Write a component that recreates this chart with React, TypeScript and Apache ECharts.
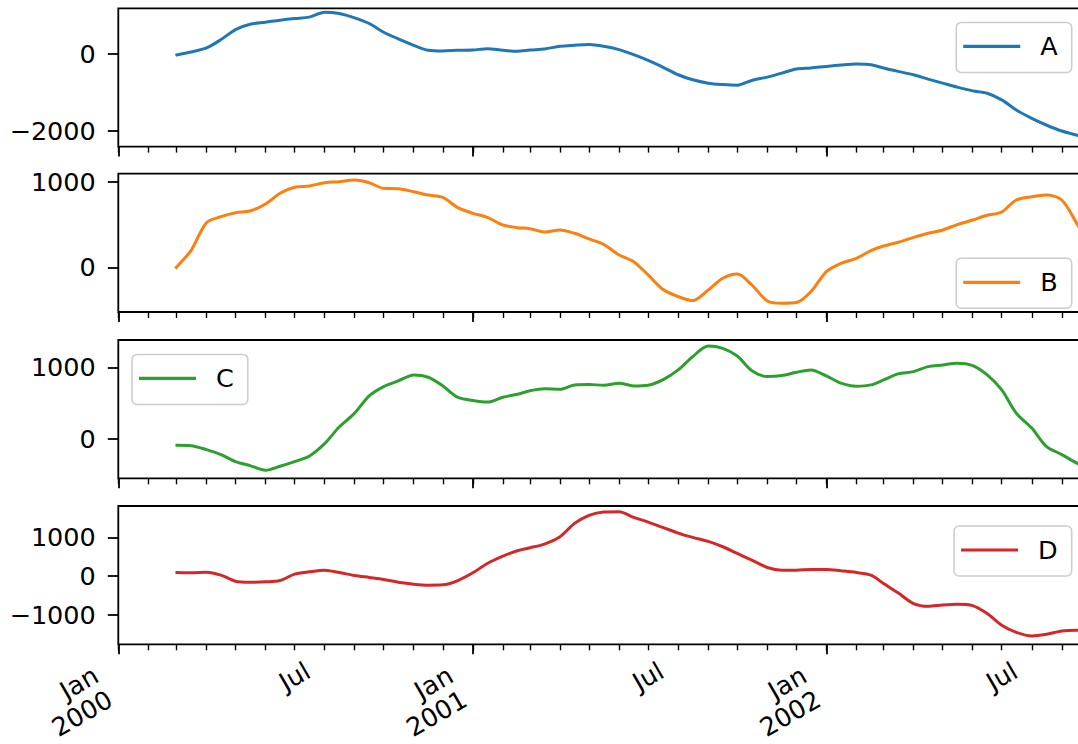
import React, { useEffect, useRef } from 'react';
import * as echarts from 'echarts';

// ---- data ----
const dates = [
  '2000-02-29', '2000-03-01', '2000-03-16', '2000-04-01', '2000-04-16', '2000-05-01', '2000-05-16',
  '2000-06-01', '2000-06-16', '2000-07-01', '2000-07-16', '2000-08-01', '2000-08-16', '2000-09-01',
  '2000-09-16', '2000-10-01', '2000-10-16', '2000-11-01', '2000-11-16', '2000-12-01', '2000-12-16',
  '2001-01-01', '2001-01-16', '2001-02-01', '2001-02-16', '2001-03-01', '2001-03-16', '2001-04-01',
  '2001-04-16', '2001-05-01', '2001-05-16', '2001-06-01', '2001-06-16', '2001-07-01', '2001-07-16',
  '2001-08-01', '2001-08-16', '2001-09-01', '2001-09-16', '2001-10-01', '2001-10-16', '2001-11-01',
  '2001-11-16', '2001-12-01', '2001-12-16', '2002-01-01', '2002-01-16', '2002-02-01', '2002-02-16',
  '2002-03-01', '2002-03-16', '2002-04-01', '2002-04-16', '2002-05-01', '2002-05-16', '2002-06-01',
  '2002-06-16', '2002-07-01', '2002-07-16', '2002-08-01', '2002-08-16', '2002-09-01', '2002-09-16',
  '2002-09-26',
];

const seriesA = [
  -35, -26, 52, 157, 374, 635, 774, 826, 879, 922, 957, 1087, 1053, 940, 792, 566, 392, 226, 96, 78,
  96, 104, 139, 96, 70, 104, 130, 200, 226, 244, 200, 113, -17, -165, -339, -539, -670, -757, -792,
  -809, -687, -600, -496, -392, -365, -322, -287, -261, -278, -365, -452, -539, -652, -757, -861,
  -957, -1018, -1192, -1453, -1670, -1844, -2001, -2105, -2166,
];

const seriesB = [
  -16, 0, 195, 521, 591, 638, 657, 739, 864, 934, 949, 988, 1000, 1019, 988, 922, 918, 883, 844, 817,
  700, 630, 584, 494, 463, 451, 412, 436, 397, 331, 268, 144, 66, -89, -257, -342, -389, -265, -128,
  -78, -206, -393, -420, -412, -284, -51, 47, 105, 195, 249, 292, 350, 397, 436, 498, 552, 607, 646,
  786, 825, 844, 786, 521, 319,
];

const seriesC = [
  -93, -93, -98, -153, -223, -321, -377, -442, -386, -321, -246, -70, 163, 358, 600, 730, 809, 893,
  860, 739, 581, 535, 512, 581, 623, 670, 698, 693, 753, 758, 749, 777, 739, 749, 823, 963, 1149,
  1297, 1265, 1158, 953, 870, 884, 930, 963, 879, 777, 735, 753, 823, 907, 939, 1009, 1032, 1056,
  1023, 893, 684, 358, 149, -107, -223, -339, -409,
];

const seriesD = [
  95, 95, 86, 103, 26, -129, -155, -146, -112, 52, 112, 155, 95, 17, -34, -86, -155, -206, -232,
  -224, -120, 86, 327, 516, 654, 731, 826, 1015, 1359, 1565, 1651, 1660, 1514, 1393, 1256, 1109, 998,
  894, 757, 585, 413, 224, 155, 155, 172, 172, 138, 95, 26, -189, -430, -705, -774, -740, -722, -757,
  -963, -1264, -1445, -1539, -1496, -1410, -1393, -1393,
];

const seriesNames = ['A', 'B', 'C', 'D'];
const seriesColors = ['#1f77b4', '#ff7f0e', '#2ca02c', '#d62728'];

const xRange = ['2000-01-01', '2002-09-26'];
const yRanges = [
  [-2405, 1187],
  [-522, 1093],
  [-555, 1382],
  [-1754, 1806],
];
const yTicks = [
  [-2000, 0],
  [0, 1000],
  [0, 1000],
  [-1000, 0, 1000],
];
const majorTickDates = ['2000-01-01', '2001-01-01', '2002-01-01'];
const labelTickDates = ['2000-01-01', '2000-07-01', '2001-01-01', '2001-07-01', '2002-01-01', '2002-07-01'];
const labelTickTexts = ['Jan\n2000', 'Jul', 'Jan\n2001', 'Jul', 'Jan\n2002', 'Jul'];
const minorTickDates = [
  '2000-01-01', '2000-02-01', '2000-03-01', '2000-04-01', '2000-05-01', '2000-06-01', '2000-07-01',
  '2000-08-01', '2000-09-01', '2000-10-01', '2000-11-01', '2000-12-01', '2001-01-01', '2001-02-01',
  '2001-03-01', '2001-04-01', '2001-05-01', '2001-06-01', '2001-07-01', '2001-08-01', '2001-09-01',
  '2001-10-01', '2001-11-01', '2001-12-01', '2002-01-01', '2002-02-01', '2002-03-01', '2002-04-01',
  '2002-05-01', '2002-06-01', '2002-07-01', '2002-08-01', '2002-09-01',
];

// ---- helpers: dates become day numbers counted from 2000-01-01 ----
const EPOCH = Date.UTC(2000, 0, 1);
const day = (s: string) => {
  const [y, m, d] = s.split('-').map(Number);
  return Math.round((Date.UTC(y, m - 1, d) - EPOCH) / 86400000);
};
const FONT = "'DejaVu Sans', 'Liberation Sans', sans-serif";
const FS = 25.5;
const allSeries = [seriesA, seriesB, seriesC, seriesD];
const gridTops = [8.3, 173.7, 340, 506];
const gridHeight = 138.3;
const legendPos: any[] = [
  { right: 28.3, top: 22.4 },
  { right: 28.3, top: 258.3 },
  { left: 132, top: 354.4 },
  { right: 28.3, top: 526 },
];

const fmtY = (v: number) => (v < 0 ? '\u2212' + Math.abs(v) : String(v));
const labelDays = labelTickDates.map(day);
const fmtX = (v: number) => {
  let idx = -1;
  labelDays.forEach((t, i) => {
    if (Math.abs(t - v) < 0.5) idx = i;
  });
  if (idx < 0) return '';
  const txt = labelTickTexts[idx];
  if (txt.indexOf('\n') >= 0) return txt.split('\n').map((l) => `{j|${l}}`).join('\n');
  return `{m|${txt}}`;
};

function buildOption() {
  const xMin = day(xRange[0]);
  const xMax = day(xRange[1]);
  const grid: any[] = [];
  const xAxis: any[] = [];
  const yAxis: any[] = [];
  const series: any[] = [];
  const legend: any[] = [];
  for (let i = 0; i < 4; i++) {
    grid.push({
      left: 118.3,
      right: 14,
      top: gridTops[i],
      height: gridHeight,
      show: true,
      borderColor: '#000',
      borderWidth: 1.8,
      backgroundColor: 'transparent',
    });
    // minor (monthly) ticks
    xAxis.push({
      type: 'value',
      gridIndex: i,
      position: 'bottom',
      min: xMin,
      max: xMax,
      axisLine: { show: false, onZero: false },
      splitLine: { show: false },
      axisTick: { show: true, customValues: minorTickDates.map(day), length: 6, lineStyle: { color: '#000', width: 1.4 } },
      axisLabel: { show: false },
    });
    // major (yearly) ticks + labels
    xAxis.push({
      type: 'value',
      gridIndex: i,
      position: 'bottom',
      min: xMin,
      max: xMax,
      axisLine: { show: false, onZero: false },
      splitLine: { show: false },
      axisTick: { show: true, customValues: majorTickDates.map(day), length: 10, lineStyle: { color: '#000', width: 1.8 } },
      axisLabel:
        i === 3
          ? {
              show: true,
              customValues: labelDays,
              formatter: fmtX,
              rotate: 30,
              align: 'center',
              verticalAlign: 'middle',
              margin: 32,
              hideOverlap: false,
              fontSize: FS,
              fontFamily: FONT,
              color: '#000',
              rich: {
                j: { fontSize: FS, fontFamily: FONT, color: '#000', lineHeight: 28, align: 'right', padding: [0, 100, 0, 0] },
                m: { fontSize: FS, fontFamily: FONT, color: '#000', lineHeight: 27 },
              },
            }
          : { show: false },
    });
    yAxis.push({
      type: 'value',
      gridIndex: i,
      min: yRanges[i][0],
      max: yRanges[i][1],
      axisLine: { show: false, onZero: false },
      splitLine: { show: false },
      axisTick: { show: true, customValues: yTicks[i], length: 10.5, lineStyle: { color: '#000', width: 1.8 } },
      axisLabel: {
        show: true,
        customValues: yTicks[i],
        formatter: fmtY,
        fontSize: FS,
        fontFamily: FONT,
        color: '#000',
        margin: 22.5,
      },
    });
    series.push({
      type: 'line',
      name: seriesNames[i],
      xAxisIndex: i * 2,
      yAxisIndex: i,
      data: dates.map((d, k) => [day(d), allSeries[i][k]]),
      symbol: 'none',
      showSymbol: false,
      smooth: 0.3,
      lineStyle: { width: 3, color: seriesColors[i] },
      itemStyle: { color: seriesColors[i] },
    });
    legend.push({
      ...legendPos[i],
      data: [seriesNames[i]],
      selectedMode: false,
      icon: 'rect',
      itemWidth: 57,
      itemHeight: 3.2,
      padding: [11, 14, 13, 7],
      backgroundColor: 'rgba(255,255,255,0.8)',
      borderColor: '#cccccc',
      borderWidth: 1.5,
      borderRadius: 5,
      textStyle: { fontSize: FS, fontFamily: FONT, color: '#000', lineHeight: 26, padding: [0, 0, 0, 15] },
    });
  }
  return {
    animation: false,
    backgroundColor: '#fff',
    grid,
    xAxis,
    yAxis,
    series,
    legend,
  };
}

export default function App() {
  const ref = useRef<HTMLDivElement>(null);
  useEffect(() => {
    if (!ref.current) return;
    const chart = echarts.init(ref.current, null, { renderer: 'svg' });
    chart.setOption(buildOption() as any);
    return () => chart.dispose();
  }, []);
  return (
    <div
      style={{
        position: 'fixed',
        left: 0,
        top: 0,
        width: 1078,
        height: 744,
        overflow: 'hidden',
        background: '#fff',
      }}
    >
      <div ref={ref} style={{ width: 1100, height: 744 }} />
    </div>
  );
}
